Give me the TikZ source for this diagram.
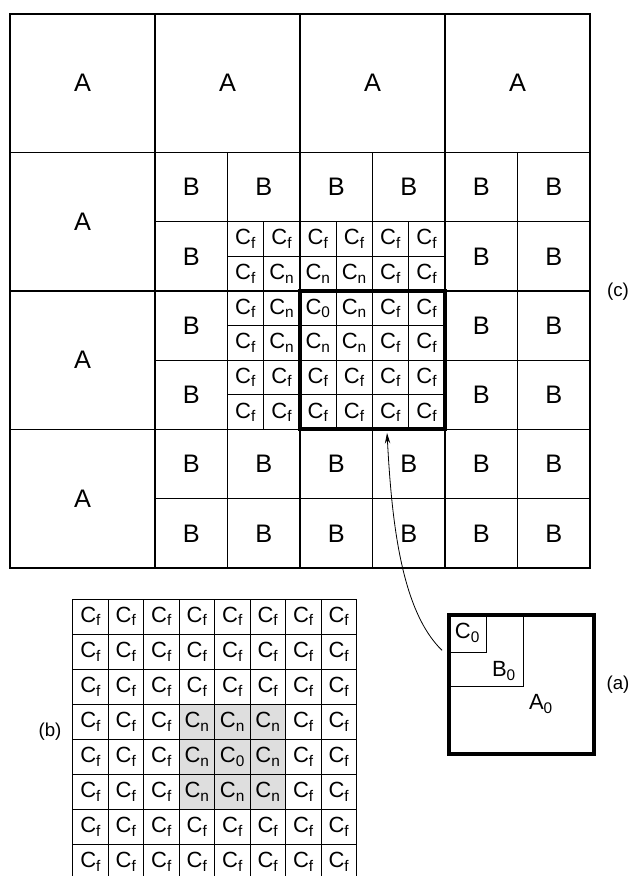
\documentclass[tikz,border=0pt]{standalone}
\usepackage{fontspec}
\setmainfont{Liberation Sans}
\usetikzlibrary{arrows.meta}
\newcommand{\Cc}[1]{C\textsubscript{#1}}

\begin{document}
\begin{tikzpicture}[x=108.75pt,y=-103.875pt,>={Stealth[length=8pt,width=4pt]},
		alev/.style={line width=1.3pt}, blev/.style={line width=0.7pt}, clev/.style={line width=0.6pt},
		bold/.style={draw,line width=3pt,minimum width=108.75pt,minimum height=103.875pt,inner sep=0pt,outer sep=0pt},
		big/.style={font=\fontsize{19}{21}\selectfont}, small/.style={font=\fontsize{16.5}{18}\selectfont,inner sep=0pt},
		tag/.style={font=\fontsize{14}{16}\selectfont}]

	\useasboundingbox (-0.069,-0.101) rectangle (4.303,6.224);

	% (c)
	\draw[alev] (0,0) rectangle (4,4);
	\foreach \k in {1,2,3} {
		\draw[alev] (\k,0) -- (\k,4);
		\draw[alev] (0,\k) -- (4,\k);
	}
	\foreach \k in {1.5,2.5,3.5} {
		\draw[blev] (\k,1) -- (\k,4);
		\draw[blev] (1,\k) -- (4,\k);
	}
	\foreach \k in {1.75,2.25,2.75} {
		\draw[clev] (\k,1.5) -- (\k,3);
		\draw[clev] (1.5,\k) -- (3,\k);
	}
	\node[bold](sq0) at (2.5,2.5){};

	\foreach \p [count=\n] in {(0.5,0.5),(1.5,0.5),(2.5,0.5),(3.5,0.5),(0.5,1.5),(0.5,2.5),(0.5,3.5)}
		\node[big](a\n) at \p {A};
	\foreach \i in {2,...,7}
		\foreach \j in {2,...,7} {
			\pgfmathtruncatemacro\inC{(\i>2)*(\i<6)*(\j>2)*(\j<6)}
			\ifnum\inC=0 \node[big](b\i\j) at ({(\i+0.5)/2},{(\j+0.5)/2}){B}; \fi
		}
	\foreach \row [count=\r] in {{f,f,f,f,f,f},{f,n,n,n,f,f},{f,n,0,n,f,f},{f,n,n,n,f,f},{f,f,f,f,f,f},{f,f,f,f,f,f}}
		\foreach \s [count=\c] in \row
			\node[small](c\r\c) at ({1.5+(\c-0.5)/4},{1.5+(\r-0.5)/4}){\Cc{\s}};
	\node[tag](tc) at (4.193,2.007){(c)};

	% (b)
	\begin{scope}[shift={(0.434,4.224)},x=26.6pt,y=-26.3pt]
		\fill[black!13] (3,3) rectangle (6,6);
		\foreach \k in {1,...,7} {
			\draw[clev] (\k,0) -- (\k,8);
			\draw[clev] (0,\k) -- (8,\k);
		}
		\draw[blev] (0,8) -- (0,0) -- (8,0) -- (8,8) -- cycle;
		\foreach \row [count=\r] in {{f,f,f,f,f,f,f,f},{f,f,f,f,f,f,f,f},{f,f,f,f,f,f,f,f},{f,f,f,n,n,n,f,f},
				{f,f,f,n,0,n,f,f},{f,f,f,n,n,n,f,f},{f,f,f,f,f,f,f,f},{f,f,f,f,f,f,f,f}}
			\foreach \s [count=\c] in \row
				\node[small](nb\r\c) at (\c-0.5,\r-0.5){\Cc{\s}};
	\end{scope}
	\node[tag](tb) at (0.276,5.184){(b)};

	% (a)
	\node[bold](boxa) at (3.53,4.84){};
	\draw[blev] (boxa.north west) rectangle +(0.51,0.513);
	\draw[blev] (boxa.north west) rectangle +(0.255,0.267);
	\node[small](c0) at (3.155,4.469){\Cc{0}};
	\node[small](b0) at (3.407,4.744){B\textsubscript{0}};
	\node[small](a0) at (3.662,4.982){A\textsubscript{0}};
	\node[tag](ta) at (4.193,4.845){(a)};

	\coordinate (from) at ([xshift=-5.5pt,yshift=25.5pt]boxa.west);
	\coordinate (tip) at ([xshift=10.9pt,yshift=-2.5pt]sq0.south);
	\draw[->,line width=0.6pt] (from) .. controls +(136:43pt) and +(-87:65pt) .. (tip);

\end{tikzpicture}
\end{document}
